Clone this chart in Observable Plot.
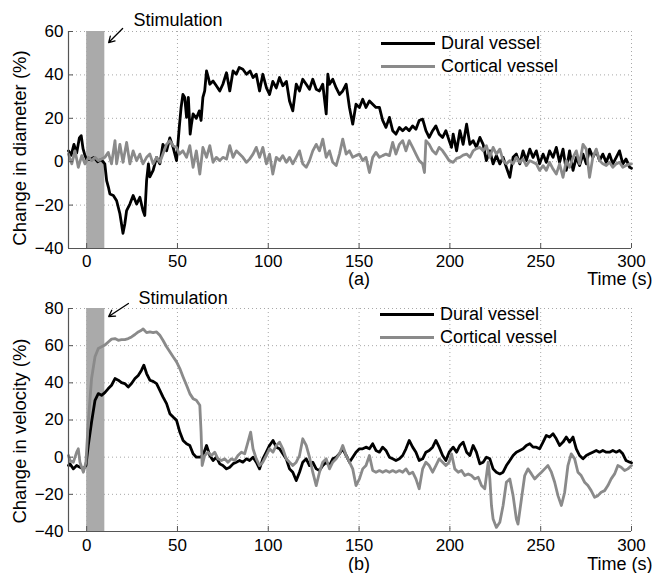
<!DOCTYPE html>
<html>
<head>
<meta charset="utf-8">
<script src="https://cdn.jsdelivr.net/npm/d3@7"></script>
<script src="https://cdn.jsdelivr.net/npm/@observablehq/plot@0.6"></script>
<style>
  body { margin: 0; background: #fff; }
  #wrap { position: relative; width: 654px; height: 573px; font-family: 'Liberation Sans', Arial, sans-serif; }
  #wrap svg { display: block; }
  .leg { position: absolute; font-size: 18px; color: #000; line-height: 1; }
  .leg .row { position: absolute; white-space: nowrap; }
  .leg .sw { position: absolute; left: 0; width: 54px; height: 3px; }
  .leg .lab { position: absolute; left: 60px; top: -9px; }
</style>
</head>
<body>
<div id="wrap"></div>
<script>
// ---------- data ----------
const xTicks = [0, 50, 100, 150, 200, 250, 300];
const xDomain = [-10, 300];
const diamTicks = [-40, -20, 0, 20, 40, 60];
const diamDomain = [-40, 60];
const velTicks = [-40, -20, 0, 20, 40, 60, 80];
const velDomain = [-40, 80];
const seriesNames = ["Dural vessel", "Cortical vessel"];
const stimulation = [{start: 0, end: 10}];
const stimLabel = "Stimulation";
const diamAnnot = [{tx: 25.8, ty: 65, x1: 19.8, y1: 61.4, x2: 12.1, y2: 54.9}];
const velAnnot = [{tx: 28.6, ty: 85.4, x1: 23, y1: 82.7, x2: 12.1, y2: 75.7}];
const diamYLabel = "Change in diameter (%)";
const velYLabel = "Change in velocity (%)";
const xLabel = "Time (s)";
const panelLabels = ["(a)", "(b)"];
const panelLabelX = 150;

// (a) change in diameter, [time s, %]
const diameterDural = [[-10,5],[-8.5,3],[-7,8],[-5.5,4],[-4,11],[-3,12],[-2,6],[-1,3],[0,1],[2,1],[4,2],[6,0],[8,1],[10,-1],[11,-8.7],[12,-11.8],[12.8,-14.9],[14.7,-15.6],[16.5,-18],[18.3,-24],[20,-33],[21,-28.7],[22,-22.5],[23.8,-19.5],[25.6,-15.6],[27.5,-19.5],[29.3,-16.4],[31,-22.5],[32,-24.8],[33,-8.7],[34,-1],[34.8,-7],[36.6,-4],[38.5,2],[40.3,-1],[42,8],[44,5],[45.8,11],[47.6,6.6],[49.5,0.5],[51,15.8],[52,25],[53,31],[54,29.6],[55,20.4],[56,29.6],[57,12.7],[57.7,17.3],[58.6,22],[60.4,20],[62,23.4],[63,19],[64,29.6],[65,32.6],[66,41.8],[67,38.8],[67.8,35.7],[69.6,37.2],[71.4,35],[73.3,32.6],[75,35.7],[77,41],[78.8,32.6],[80.6,41.8],[82.4,40.3],[84,43.4],[86,42.6],[88,40.3],[90,41.8],[91.6,38.8],[93.4,40.3],[95.2,32.6],[97,40.3],[99,34],[100.7,31],[102.5,37],[104.4,34],[106.2,38.8],[108,35],[110,37],[111.7,28],[113.5,23.4],[115.4,35.7],[117.2,32.6],[119,38],[120.9,35.7],[122.7,33.4],[124.5,38],[126.4,33.4],[128.2,32.6],[130,35.7],[131.9,22],[132.8,40.3],[133.7,35.7],[135.5,38],[137.4,34],[139.2,31],[141,32.6],[142.9,35.7],[144.7,25],[146.5,17.3],[148.3,26.5],[150.2,25],[152,28.8],[153.8,25],[155.7,28],[157.5,26.5],[159.3,25],[161.2,25],[163,19],[164.8,15.8],[166.7,20.4],[168.5,14.3],[170.3,12.7],[172.2,15.8],[174,14.3],[175.8,15.8],[177.6,14.3],[179.5,16.5],[181.3,15],[183.1,19],[185,19.6],[186.8,14.3],[188.6,11.2],[190.5,14.3],[192.3,16.5],[194.1,12.7],[196,11.2],[197.8,14.3],[199.6,9.7],[200.9,6.6],[201.8,12.7],[203.7,5],[205.5,14.3],[207.3,8],[209.2,17.3],[211,8],[212.8,9.7],[214.6,6.6],[216.5,11.2],[218.3,8],[220.1,0.5],[222,5],[223.8,-1],[225.6,2.8],[227.5,-1],[229.3,2],[231.1,-2.6],[233,-7.2],[234.8,2],[236.6,3.5],[238.5,-1],[240.3,5],[242.1,0.5],[244,5.8],[245.8,2],[247.6,5],[249.4,-1],[251.3,3.5],[253.1,-0.3],[254.9,5],[256.8,2],[258.6,6.6],[260.4,-0.3],[262.3,5.8],[264.1,-4],[265.9,5],[267.8,-4],[269.6,2],[271.4,-1.8],[273.3,3.5],[275.1,-1],[276.9,5.8],[278.7,2],[280.6,5],[282.4,0.5],[284.2,3.5],[286.1,-0.3],[287.9,3.5],[289.7,-1],[291.6,2],[293.4,5],[295.2,-1],[297,1.2],[299,-2.6],[300,-3]];
const diameterCortical = [[-10,3.5],[-8.2,-1],[-6.4,5],[-4.6,-2.6],[-2.7,2.8],[-0.9,-1],[1,2],[2.7,0.5],[4.6,2],[6.4,0.5],[8.2,1.2],[10,2],[11.9,4.3],[13.7,-1],[15.6,9.7],[16.5,-1],[18.3,8],[20,-0.3],[22,8.9],[23.8,-1],[25.6,5],[27.5,0.5],[29.3,3.5],[31,-1],[33,2],[34.8,3.5],[36.6,-1],[38.5,2],[40.3,-0.3],[42,3.5],[44,8],[45.8,9.7],[47.6,7.4],[49.5,6.6],[51,3.5],[53,5],[55,2],[56.8,7.4],[58.6,-2.6],[60.4,5],[62.3,-5.7],[64,6.6],[66,2],[67.8,7.4],[69.6,-0.3],[71.4,2],[73.3,0.5],[75,2],[77,1.2],[78.8,7.4],[80.6,2],[82.4,5],[84.2,3.5],[86,2],[88,-0.3],[89.7,1.2],[91.6,3.5],[93.4,6.6],[95.2,2],[97,6.6],[99,-1],[100.7,3.5],[102.5,-5.7],[104.4,2],[106.2,0.5],[108,2.8],[110,-0.3],[111.7,2],[113.5,-1],[115.4,2],[117.2,5],[119,-1],[120.9,-2.6],[122.7,0.5],[124.5,5],[126.4,8],[128.2,5],[130,10.4],[131.9,2],[133.7,5],[135.5,-0.3],[137.4,-1.8],[139.2,3.5],[141,10.4],[142.9,3.5],[144.7,5],[146.5,2],[148.3,2.8],[150.2,3.5],[152,0.5],[153.8,2],[155.7,-5],[157.5,2],[159.3,4.3],[161.2,2],[163,2.8],[164.8,3.5],[166.7,2.8],[168.5,8.9],[170.3,3.5],[172.2,8],[174,9.7],[175.8,5],[177.6,9.7],[179.5,6.6],[181.3,3.5],[183.1,0.5],[185,-1],[186,-5],[186.8,9.7],[188.6,8],[190.5,5],[192.3,3.5],[194.1,6.6],[196,5],[197.8,2.8],[199.6,0.5],[201.8,-0.3],[203.7,1.5],[205.5,2],[207.3,3],[209.2,3.5],[211,2],[212.8,5],[214.6,6],[216.5,6.6],[218.3,5],[220.1,7.4],[222,2],[223.8,6.6],[225.6,3.5],[227.5,5.8],[229.3,0.5],[231.1,-1],[233,0.5],[234.8,-1],[236.6,2],[238.5,-0.3],[240.3,1.2],[242.1,-1.8],[244,0.5],[245.8,-0.3],[247.6,-1],[249.4,-4],[251.3,-1.8],[253.1,-4],[254.9,-0.3],[256.8,-3.4],[258.6,-5.7],[260.4,-1],[262.3,-7.2],[264.1,0.5],[265.9,-2.6],[267.8,2],[269.6,5],[271.4,-1],[273.3,8],[275.1,5.8],[276.9,-7.2],[278.7,2],[280.6,5.8],[282.4,0.5],[284.2,-1],[286.1,-1.8],[287.9,-0.3],[289.7,-2.6],[291.6,-1],[293.4,-0.3],[295.2,-2.6],[297,-1.8],[299,-1],[300,-1]];

// (b) change in velocity, [time s, %]
const velocityDural = [[-10,-4.5],[-9.2,-3.6],[-7.3,-6.3],[-5.5,-4.5],[-3.7,-5.4],[-1.8,-6.3],[-0.4,-4.5],[0.9,6.3],[2.7,18.9],[4.6,30.6],[6.4,34.2],[8.2,33.3],[10,34.7],[11.9,36.9],[13.7,38.7],[15.6,42.3],[17.4,41.4],[19.2,40.1],[21,39.6],[22.9,37.8],[24.7,39.6],[26.6,42.3],[28.4,44],[30.2,46.8],[31.5,49.5],[33,45],[34.8,41.4],[36.6,40.8],[38.5,39.6],[40.3,36],[42,32.4],[44,28.8],[45.8,23.4],[47.6,21.6],[49.5,19.8],[51.3,13.5],[53.1,9],[55,7.2],[56.8,6.3],[58.6,1.8],[60.4,0],[62.3,0],[64,0.9],[66,6.3],[67.8,0.9],[69.6,-1.8],[71.4,0],[73.3,-3.6],[75,-4.5],[77,-6.3],[78.8,-5.4],[80.6,-3.6],[82.4,-2.7],[84.2,-1.8],[86,-2.7],[88,-0.9],[89.7,-1.8],[91.6,0],[93.4,-2.7],[95.2,-6.3],[97,-0.9],[98.9,2.7],[100.7,6.3],[102.6,9],[104.4,5.4],[106.2,4.5],[108,1.8],[109.9,-0.9],[111.7,-6.3],[113.5,-8.1],[115.4,-12.6],[117.2,-8.1],[119,-2.7],[120.9,-0.9],[122.7,-4.5],[124.5,-2.7],[126.4,-6.3],[128.2,-7.2],[130,-4.5],[131.9,-2.7],[133.7,-4.5],[135.5,-0.9],[137.4,0],[139.2,1.8],[141,4.5],[142.9,0.9],[144.7,-2.7],[146.5,0],[148.3,2.7],[150.2,4.5],[152,4.5],[153.8,5.4],[155.7,4.5],[157.5,7.2],[159.3,3.6],[161.2,2.7],[163,5.4],[164.8,3.6],[166.7,0],[168.5,-0.9],[170.3,-1.8],[172.2,-0.9],[174,0.9],[175.8,4.5],[177.6,9],[179.5,5.4],[181.3,2.7],[183.1,-1.8],[185,-0.9],[186.8,2.7],[188.6,3.6],[190.5,5.4],[192.3,9],[194.1,5.4],[196,0.9],[197.8,-1.8],[199.6,2.7],[201.8,5.4],[203.7,2.7],[205.5,6.3],[207.3,8.1],[209.2,2.7],[211,0.9],[212.8,6.3],[214.6,2.7],[216.5,-3.6],[218.3,-2.7],[220.1,0],[222,-0.9],[223.8,-6.3],[225.6,-8.1],[227.5,-9],[229.3,-8.1],[231.1,-4.5],[233,-1.8],[234.8,0.9],[236.6,2.7],[238.5,3.6],[240.3,4.5],[242.1,6.3],[244,7.2],[245.8,5.4],[247.6,5.4],[249.4,4.5],[251.3,8.1],[253.1,11.7],[254.9,10.8],[256.8,12.6],[258.6,9.9],[260.4,6.3],[262.3,8.1],[264.1,10.8],[265.9,8.1],[267.8,10.8],[269.6,4.5],[271.4,0.9],[273.3,-0.9],[275.1,0.9],[276.9,1.8],[278.7,2.7],[280.6,3.6],[282.4,2.7],[284.2,3.6],[286.1,2.7],[287.9,2.7],[289.7,3.6],[291.6,2.7],[293.4,3.6],[295.2,1.8],[297,-1.8],[299,-2.7],[300,-3]];
const velocityCortical = [[-10,0.9],[-9.2,-1.8],[-7.3,-2.7],[-5.5,2.7],[-4.6,4.5],[-3.7,-2.7],[-1.8,-8.1],[-0.4,-2.7],[0.9,18.9],[2.7,42.3],[4.6,54],[6.4,58.5],[8.2,59.4],[10,60.3],[11.9,62],[13.7,63.5],[15.6,63.8],[17.4,62.9],[19.2,63.3],[21,63.3],[22.9,63.8],[24.7,64.7],[26.6,66],[28.4,67.4],[30.2,68.3],[31.1,69],[33,67],[34.8,67.4],[36.6,67],[38.5,67.4],[40.3,65.6],[42,62.9],[44,59.4],[45.8,56.7],[47.6,54],[49.5,51.3],[51.3,47.7],[53.1,43.2],[55,38.7],[56.8,34.2],[58.6,31.5],[60.4,30.6],[62.3,27.9],[63,13.5],[63.6,-4.5],[65,0.9],[66.8,2.7],[68.7,0.9],[70.5,2.7],[72.3,-0.9],[74.2,-1.8],[76,-0.9],[77.8,-2.7],[79.7,-0.9],[81.5,-1.8],[83.3,0.9],[85.2,2.7],[87,1.8],[88.8,8.1],[90.3,13.5],[91.6,4.5],[93.4,-0.9],[95.2,-4.5],[97,-2.7],[98.9,0.9],[100.7,4.5],[102.6,2.7],[104.4,6.3],[106.2,8.1],[108,4.5],[109.9,-0.9],[111.7,-2.7],[113.5,-4.5],[115.4,-2.7],[117.2,0.9],[119,9.9],[120.9,6.3],[122.7,0],[124.5,-8.1],[126.4,-15.3],[128.2,-8.1],[130,-2.7],[131.9,-0.9],[133.7,-6.3],[135.5,-2.7],[137.4,-0.9],[139.2,1.8],[141,6.3],[142.9,0.9],[144.7,-2.7],[146.5,-6.3],[148.3,-15.3],[150.2,-11.7],[152,-6.3],[153.8,-4.5],[155.7,0.9],[157.5,-7.2],[159.3,-8.1],[161.2,-7.2],[163,-8.1],[164.8,-7.2],[166.7,-8.1],[168.5,-7.2],[170.3,-8.1],[172.2,-7.2],[174,-8.1],[175.8,-6.3],[177.6,-9],[179.5,-8.1],[181.3,-11.7],[183.1,-17],[185,-6.3],[186.8,-2.7],[188.6,-4.5],[190.5,-8.1],[192.3,-4.5],[194.1,-0.9],[196,-2.7],[197.8,-4.5],[199.6,-2.7],[200.9,1.8],[202.7,-6.3],[204.6,-8.1],[206.4,-7.2],[208.2,-9.9],[210.1,-9],[211.9,-9.9],[213.7,-11.7],[215.6,-10.8],[217.4,-15.3],[219.2,-17],[221.1,-2.7],[222,-11.7],[222.9,-26],[223.8,-33.3],[225.6,-37.8],[227.5,-35],[229.3,-26],[231.1,-13.5],[233,-11.7],[234.8,-20.7],[236.6,-33.3],[237.5,-36],[239.4,-22.5],[241.2,-9.9],[243,-6.3],[244.9,-9],[246.7,-11.7],[248.5,-9.9],[250.4,-8.1],[252.2,-6.3],[254,-4.5],[255.9,-8.1],[257.7,-13.5],[259.5,-20.7],[261.4,-26],[263.2,-18.9],[265,-4.5],[266.8,1.8],[268.7,-0.9],[270.5,-8.1],[272.3,-9.9],[274.2,-13.5],[276,-15.3],[277.8,-18],[279.7,-21.6],[281.5,-20.7],[283.3,-18.9],[285.2,-18],[287,-15.3],[288.8,-11.7],[290.7,-9],[292.5,-4.5],[294.3,-5.4],[296.2,-7.2],[298,-6.3],[300,-4.5]];

// ---------- styles ----------
const colDural = "#000000";
const colCortical = "#8a8a8a";
const fontFam = "'Liberation Sans', Arial, sans-serif";

function panel({height, mt, mb, yDomain, yTicks, dural, cortical, annot, yLabel, yLabelDy, panelLabel, labelDy, tickPad}) {
  const W = 654, ml = 68, mr = 23;
  const fw = W - ml - mr, fh = height - mt - mb;
  const grid = {stroke: "#a8a8a8", strokeOpacity: 1, strokeWidth: 1, strokeDasharray: "1,3"};
  return Plot.plot({
    width: W, height,
    marginLeft: ml, marginRight: mr, marginTop: mt, marginBottom: mb,
    x: {domain: xDomain},
    y: {domain: yDomain},
    style: {fontFamily: fontFam, fontSize: "17px", color: "#000", background: "#fff", overflow: "visible"},
    marks: [
      Plot.gridX(xTicks, grid),
      Plot.gridY(yTicks, grid),
      Plot.rect(stimulation, {x1: "start", x2: "end", fill: "#aaaaaa"}),
      Plot.line(dural, {x: d => d[0], y: d => d[1], stroke: colDural, strokeWidth: 2.8, strokeLinejoin: "round"}),
      Plot.line(cortical, {x: d => d[0], y: d => d[1], stroke: colCortical, strokeWidth: 2.8, strokeLinejoin: "round"}),
      Plot.ruleY([yDomain[0]], {stroke: "#555", strokeWidth: 1.2}),
      Plot.ruleX([xDomain[0]], {stroke: "#555", strokeWidth: 1.2}),
      Plot.tickX(xTicks, {x: d => d, insetTop: fh - 5, stroke: "#555"}),
      Plot.tickY(yTicks, {y: d => d, insetRight: fw - 5, stroke: "#555"}),
      Plot.axisX({ticks: xTicks, tickSize: 0, tickPadding: tickPad, label: null, fontSize: 17}),
      Plot.axisY({ticks: yTicks, tickSize: 0, tickPadding: 5, label: null, fontSize: 17}),
      Plot.text(annot, {x: "tx", y: "ty", text: () => stimLabel, textAnchor: "start", fontSize: 18}),
      Plot.arrow(annot, {x1: "x1", y1: "y1", x2: "x2", y2: "y2", stroke: "#000", strokeWidth: 1.3, headLength: 8}),
      Plot.text([yLabel], {frameAnchor: "left", text: d => d, rotate: -90, textAnchor: "middle", lineAnchor: "middle", dx: -48, dy: yLabelDy, fontSize: 18.5}),
      Plot.text([panelLabel], {x: panelLabelX, frameAnchor: "bottom", text: d => d, textAnchor: "middle", lineAnchor: "middle", dy: labelDy, fontSize: 18}),
      Plot.text([xLabel], {frameAnchor: "bottom-right", text: d => d, textAnchor: "end", lineAnchor: "middle", dx: 21, dy: labelDy, fontSize: 18})
    ]
  });
}

const wrap = document.getElementById("wrap");
wrap.appendChild(panel({height: 285, mt: 31, mb: 37, yDomain: diamDomain, yTicks: diamTicks,
  dural: diameterDural, cortical: diameterCortical, annot: diamAnnot,
  yLabel: diamYLabel, yLabelDy: 8, panelLabel: panelLabels[0], labelDy: 31, tickPad: 6}));
wrap.appendChild(panel({height: 288, mt: 23, mb: 42, yDomain: velDomain, yTicks: velTicks,
  dural: velocityDural, cortical: velocityCortical, annot: velAnnot,
  yLabel: velYLabel, yLabelDy: 11, panelLabel: panelLabels[1], labelDy: 33, tickPad: 7}));

// legends
function legend(left, top) {
  const d = document.createElement("div");
  d.className = "leg";
  d.style.left = left + "px";
  d.style.top = top + "px";
  [colDural, colCortical].forEach((c, i) => {
    const r = document.createElement("div");
    r.className = "row";
    r.style.top = (i * 23) + "px";
    const sw = document.createElement("div");
    sw.className = "sw";
    sw.style.background = c;
    sw.style.top = "-1.5px";
    const lab = document.createElement("div");
    lab.className = "lab";
    lab.textContent = seriesNames[i];
    r.appendChild(sw); r.appendChild(lab);
    d.appendChild(r);
  });
  wrap.appendChild(d);
}
legend(381, 43);
legend(380, 314);
</script>
</body>
</html>
